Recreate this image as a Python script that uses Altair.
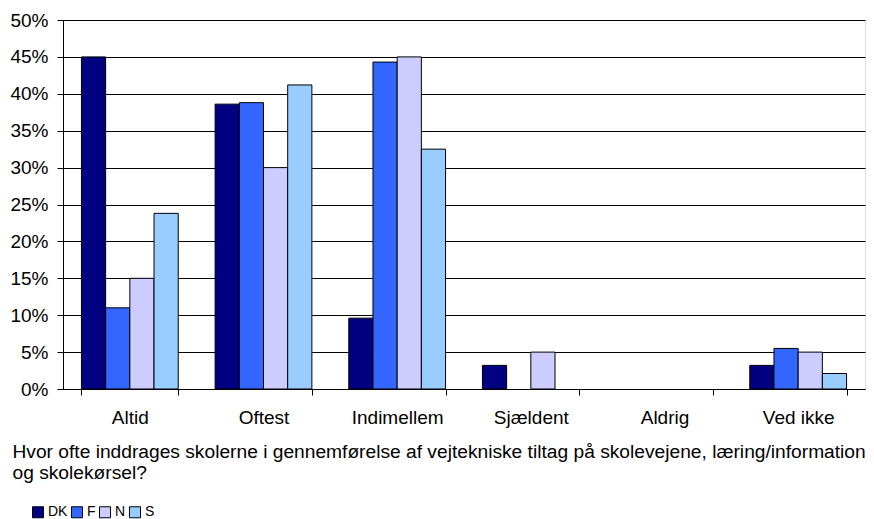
import altair as alt
import pandas as pd

categories = ["Altid", "Oftest", "Indimellem", "Sjældent", "Aldrig", "Ved ikke"]
series = ["DK", "F", "N", "S"]
DK = [45.0, 38.6, 9.6, 3.2, 0.0, 3.2]
F = [11.0, 38.8, 44.3, 0.0, 0.0, 5.5]
N = [15.0, 30.0, 45.0, 5.0, 0.0, 5.0]
S = [23.8, 41.2, 32.5, 0.0, 0.0, 2.1]
colors = ["#000080", "#3366FF", "#CCCCFF", "#99CCFF"]
y_ticks = [0, 0.05, 0.10, 0.15, 0.20, 0.25, 0.30, 0.35, 0.40, 0.45, 0.50]
x_title = [
    "Hvor ofte inddrages skolerne i gennemførelse af vejtekniske tiltag på skolevejene, læring/information",
    "og skolekørsel?",
]

rows = []
for name, vals in zip(series, [DK, F, N, S]):
    for c, v in zip(categories, vals):
        rows.append({"kategori": c, "land": name, "andel": v / 100.0})
df = pd.DataFrame(rows)

FONT = "Liberation Sans"

chart = (
    alt.Chart(df)
    .transform_filter("datum.andel > 0")
    .mark_bar(stroke="black", strokeWidth=1)
    .encode(
        x=alt.X(
            "kategori:N",
            sort=categories,
            scale=alt.Scale(domain=categories, paddingInner=0.276, paddingOuter=0.138),
            axis=alt.Axis(
                title=x_title,
                titleX=-51,
                titleY=68,
                titleAlign="left",
                titleAnchor="start",
                titleBaseline="alphabetic",
                titleFont=FONT,
                titleFontSize=19.2,
                titleFontWeight="normal",
                titleColor="black",
                titleLineHeight=21.5,
                titleLimit=900,
                labelAngle=0,
                labelFont=FONT,
                labelFontSize=19,
                labelColor="black",
                labelPadding=13,
                tickBand="extent",
                tickSize=6,
                tickColor="black",
                domainColor="black",
                grid=False,
            ),
        ),
        xOffset=alt.XOffset("land:N", sort=series, scale=alt.Scale(domain=series)),
        y=alt.Y(
            "andel:Q",
            scale=alt.Scale(domain=[0, 0.5], nice=False),
            axis=alt.Axis(
                title=None,
                values=y_ticks,
                format=".0%",
                labelFont=FONT,
                labelFontSize=19,
                labelColor="black",
                labelPadding=9,
                tickSize=6,
                tickColor="black",
                domainColor="black",
                grid=True,
                gridColor="black",
                gridWidth=1,
            ),
        ),
        color=alt.Color(
            "land:N",
            sort=series,
            scale=alt.Scale(domain=series, range=colors),
            legend=alt.Legend(
                title=None,
                orient="none",
                legendX=-32,
                legendY=485,
                direction="horizontal",
                symbolType="square",
                symbolSize=121,
                symbolStrokeColor="black",
                symbolStrokeWidth=1,
                symbolOpacity=1,
                labelFont=FONT,
                labelFontSize=14,
                labelColor="black",
                labelOffset=3,
                columnPadding=1,
                padding=0,
            ),
        ),
    )
    .properties(
        width=802,
        height=369,
        autosize=alt.AutoSizeParams(type="none"),
        padding={"left": 55, "top": 12, "right": 1, "bottom": 130},
    )
    .configure_view(stroke=None)
    .configure(background="white")
)

chart.save("out.html", embed_options={"renderer": "svg", "actions": False})
